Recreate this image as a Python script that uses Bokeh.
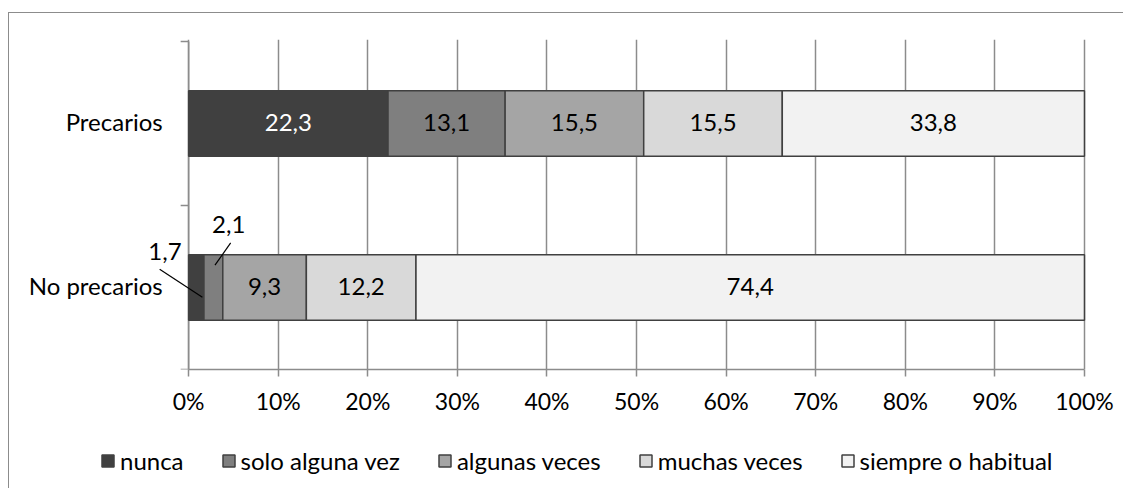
import numpy as np
from bokeh.plotting import figure
from bokeh.layouts import column
from bokeh.models import ColumnDataSource, FixedTicker, Legend, LegendItem, Range1d
from bokeh.core.properties import value
from bokeh.embed import file_html
from bokeh.resources import INLINE

# ---------------- data ----------------
categories = ["Precarios", "No precarios"]
series_names = ["nunca", "solo alguna vez", "algunas veces", "muchas veces", "siempre o habitual"]
nunca = [22.3, 1.7]
solo_alguna_vez = [13.1, 2.1]
algunas_veces = [15.5, 9.3]
muchas_veces = [15.5, 12.2]
siempre_o_habitual = [33.8, 74.4]
series_values = [nunca, solo_alguna_vez, algunas_veces, muchas_veces, siempre_o_habitual]
x_tick_values = [0, 10, 20, 30, 40, 50, 60, 70, 80, 90, 100]
x_tick_labels = ["0%", "10%", "20%", "30%", "40%", "50%", "60%", "70%", "80%", "90%", "100%"]

# ---------------- style / layout ----------------
colors = ["#404040", "#7f7f7f", "#a5a5a5", "#d9d9d9", "#f2f2f2"]
text_colors = ["#ffffff", "#000000", "#000000", "#000000", "#000000"]
FONT = "Lato"
FS = "24px"
TICK_FS = "23px"
GRID = "#8c8c8c"
OUTLINE = "#404040"
BAR_H = 0.4
FRAME_W = 1114          # frame spans the whole canvas width
AXIS_PX = 179           # pixel position of the 0% line inside the frame
PX_PER_UNIT = 8.95      # pixels per percentage point
PX_PER_CAT = 163.5      # pixels per category band
TOP_PAD_PX = 2
YTICK_PX = 8
BORDER = {"border-top": "1px solid #8c8c8c", "border-left": "1px solid #8c8c8c"}
# callouts for the narrow segments: offsets (data units) from segment centre
callouts = {
    (0, 1): dict(label=(-3.5, 0.22), start=(-4.09, 0.112), end=(0.68, -0.06)),
    (1, 1): dict(label=(1.71, 0.385), start=(1.93, 0.272), end=(0.18, 0.136)),
}

vals = np.array(series_values, dtype=float)
totals = vals.sum(axis=0)
pct = vals / totals * 100.0
right = np.cumsum(pct, axis=0)
left = right - pct
n = len(categories)
y_pos = [n - 0.5 - i for i in range(n)]

x_lo = -AXIS_PX / PX_PER_UNIT
x_hi = (FRAME_W - AXIS_PX) / PX_PER_UNIT
y_hi = n + TOP_PAD_PX / PX_PER_CAT
frame_h = int(round(n * PX_PER_CAT + TOP_PAD_PX))

p = figure(frame_width=FRAME_W, frame_height=frame_h,
           x_range=Range1d(x_lo, x_hi), y_range=Range1d(0, y_hi),
           output_backend="svg", toolbar_location=None, y_axis_location=None,
           min_border_left=0, min_border_right=0, min_border_top=26, min_border_bottom=50,
           outline_line_color=None, margin=(12, 0, 0, 8), styles=BORDER)

sources = []
for s, name in enumerate(series_names):
    src = ColumnDataSource(dict(y=y_pos, left=left[s], right=right[s]))
    sources.append(src)
    p.hbar(y="y", left="left", right="right", height=BAR_H, source=src,
           fill_color=colors[s], line_color=OUTLINE, line_width=1.5)

# category axis (drawn on the 0 line)
p.segment(x0=[0], y0=[0], x1=[0], y1=[n], line_color=GRID, line_width=1.5, level="underlay")
bounds = [float(i) for i in range(n + 1)]
p.segment(x0=[0] * len(bounds), y0=bounds, x1=[-YTICK_PX / PX_PER_UNIT] * len(bounds), y1=bounds,
          line_color=GRID, line_width=1.5)
p.text(x=[0] * n, y=y_pos, text=categories, x_offset=-26, text_align="right",
       text_baseline="middle", text_font=value(FONT), text_font_size=FS,
       text_color="#000000", y_offset=-2)

# data labels
lx, ly, lt, lc = [], [], [], []
cx_l, cy_l, ct_l = [], [], []
seg_x0, seg_y0, seg_x1, seg_y1 = [], [], [], []
for s in range(len(series_names)):
    for c in range(n):
        cx = (left[s][c] + right[s][c]) / 2.0
        cy = y_pos[c]
        txt = f"{vals[s][c]:.1f}".replace(".", ",")
        if (s, c) in callouts:
            co = callouts[(s, c)]
            cx_l.append(cx + co["label"][0]); cy_l.append(cy + co["label"][1]); ct_l.append(txt)
            seg_x0.append(cx + co["start"][0]); seg_y0.append(cy + co["start"][1])
            seg_x1.append(cx + co["end"][0]); seg_y1.append(cy + co["end"][1])
        else:
            lx.append(cx); ly.append(cy); lt.append(txt); lc.append(text_colors[s])

p.text(x=lx, y=ly, text=lt, text_color=lc, text_align="center", text_baseline="middle",
       text_font=value(FONT), text_font_size=FS, y_offset=-1)
p.text(x=cx_l, y=cy_l, text=ct_l, text_color="#000000", text_align="center",
       text_baseline="middle", text_font=value(FONT), text_font_size=FS)
p.segment(x0=seg_x0, y0=seg_y0, x1=seg_x1, y1=seg_y1, line_color="#000000", line_width=1.2)

# x axis
xa = p.xaxis[0]
xa.ticker = FixedTicker(ticks=x_tick_values)
xa.bounds = (x_tick_values[0], x_tick_values[-1])
xa.major_label_overrides = {t: l for t, l in zip(x_tick_values, x_tick_labels)}
xa.axis_line_color = GRID
xa.axis_line_width = 1.5
xa.major_tick_line_color = GRID
xa.major_tick_line_width = 1.5
xa.major_tick_in = 0
xa.major_tick_out = 7
xa.minor_tick_line_color = None
xa.major_label_text_font = FONT
xa.major_label_text_font_size = TICK_FS
xa.major_label_text_color = "#000000"
xa.major_label_standoff = 10

p.xgrid.ticker = FixedTicker(ticks=x_tick_values)
p.xgrid.grid_line_color = GRID
p.xgrid.grid_line_width = 1.5
p.ygrid.grid_line_color = None

# ---------------- legend strip (second figure, legend inside its frame) ----------------
p2 = figure(frame_width=FRAME_W, frame_height=70,
            x_range=Range1d(-1000, -999), y_range=Range1d(-1000, -999),
            output_backend="svg", toolbar_location=None,
            x_axis_location=None, y_axis_location=None,
            min_border_left=0, min_border_right=0, min_border_top=0, min_border_bottom=0,
            outline_line_color=None, margin=(0, 0, 0, 8),
            styles={"border-left": "1px solid #8c8c8c"})
p2.xgrid.grid_line_color = None
p2.ygrid.grid_line_color = None
items = []
for s, name in enumerate(series_names):
    r = p2.hbar(y="y", left="left", right="right", height=BAR_H, source=sources[s],
                fill_color=colors[s], line_color=OUTLINE, line_width=1.5)
    items.append(LegendItem(label=name, renderers=[r]))

legend = Legend(items=items, orientation="horizontal", location=(91, 13),
                glyph_width=15, glyph_height=15, label_standoff=5, spacing=37,
                padding=0, margin=0, border_line_color=None, background_fill_alpha=0,
                label_text_font=FONT, label_text_font_size=FS, label_text_color="#000000")
p2.add_layout(legend)

layout = column(p, p2, spacing=0)
open("out.html", "w").write(file_html(layout, INLINE))
